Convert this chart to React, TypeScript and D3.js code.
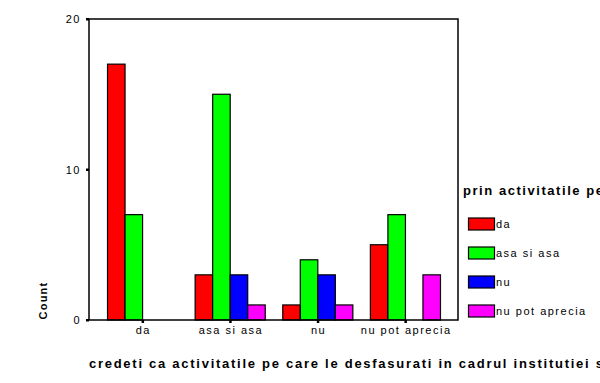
import React from "react";
import * as d3 from "d3";

const categories = ["da", "asa si asa", "nu", "nu pot aprecia"];
const seriesNames = ["da", "asa si asa", "nu", "nu pot aprecia"];
const seriesColors = ["#ff0000", "#00ff00", "#0000ff", "#ff00ff"];
// values[series][category]
const daValues = [17, 3, 1, 5];
const asaValues = [7, 15, 4, 7];
const nuValues = [0, 3, 3, 0];
const nuPotValues = [0, 1, 1, 3];
const yTicks = [0, 10, 20];
const xTitle = "credeti ca activitatile pe care le desfasurati in cadrul institutiei s";
const legendTitle = "prin activitatile pe";
const yTitle = "Count";

const W = 600;
const H = 383;
const left = 89;
const right = 458;
const top = 19;
const bottom = 320;
const font = "'Liberation Sans', Arial, sans-serif";

export default function App() {
  const series = [daValues, asaValues, nuValues, nuPotValues];
  const x = d3.scaleBand<string>().domain(categories).range([left + 1, right]).paddingInner(0.2).paddingOuter(0.2);
  const xi = d3.scaleBand<string>().domain(seriesNames).range([0, x.bandwidth()]).padding(0);
  const y = d3.scaleLinear().domain([0, 20]).range([bottom, top]);

  return (
    <div style={{ position: "absolute", left: 0, top: 0 }}>
      <svg width={W} height={H} style={{ display: "block", background: "#fff" }}>
        {/* bars */}
        {categories.map((c, ci) =>
          seriesNames.map((s, si) => {
            const v = series[si][ci];
            if (!v) return null;
            const bx = (x(c) as number) + (xi(s) as number);
            return (
              <rect
                key={c + s}
                x={bx}
                y={y(v)}
                width={xi.bandwidth()}
                height={y(0) - y(v)}
                fill={seriesColors[si]}
                stroke="#000"
                strokeWidth={1.2}
              />
            );
          })
        )}
        {/* frame */}
        <rect x={left} y={top} width={right - left} height={bottom - top} fill="none" stroke="#000" strokeWidth={1.5} />
        {/* y ticks */}
        {yTicks.map((t) => (
          <g key={t}>
            <rect x={left - 3} y={y(t) - 1} width={3} height={2.5} fill="#000" />
            <text x={left - 8} y={y(t) + 4} textAnchor="end" fontFamily={font} fontSize={11} letterSpacing={1.5} fill="#000">
              {t}
            </text>
          </g>
        ))}
        {/* x ticks */}
        {categories.map((c) => {
          const cx = (x(c) as number) + x.bandwidth() / 2;
          return (
            <g key={c}>
              <rect x={cx - 1} y={bottom} width={2.5} height={3} fill="#000" />
              <text x={cx + 0.75} y={334} textAnchor="middle" fontFamily={font} fontSize={11} letterSpacing={1.5} fill="#000">
                {c}
              </text>
            </g>
          );
        })}
        {/* y title */}
        <text
          transform={`translate(47, 300.5) rotate(-90)`}
          textAnchor="middle"
          fontFamily={font}
          fontWeight="bold"
          fontSize={11}
          letterSpacing={1.2}
          fill="#000"
        >
          {yTitle}
        </text>
        {/* x title */}
        <text x={89} y={368} fontFamily={font} fontWeight="bold" fontSize={13} textLength={514} lengthAdjust="spacing" fill="#000">
          {xTitle}
        </text>
        {/* legend */}
        <text x={463} y={195} fontFamily={font} fontWeight="bold" fontSize={13} textLength={140} lengthAdjust="spacing" fill="#000">
          {legendTitle}
        </text>
        {seriesNames.map((s, i) => {
          const cy = 224 + i * 29;
          return (
            <g key={s}>
              <rect x={468.5} y={cy - 6} width={26} height={12} fill={seriesColors[i]} stroke="#000" strokeWidth={1.2} />
              <text x={496} y={cy + 4} fontFamily={font} fontSize={11} letterSpacing={1.5} fill="#000">
                {s}
              </text>
            </g>
          );
        })}
      </svg>
    </div>
  );
}
